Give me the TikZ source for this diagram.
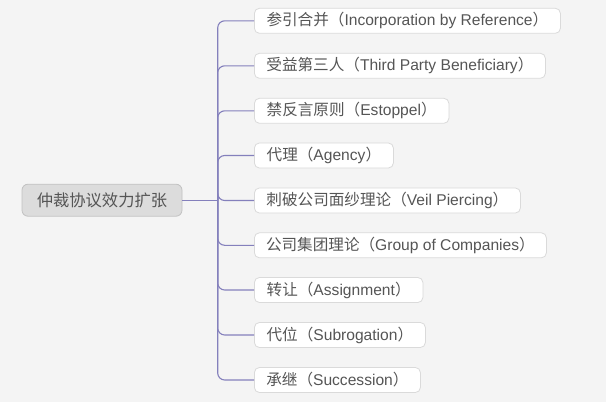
\documentclass[tikz,border=0pt]{standalone}
\usepackage{fontspec}
\setmainfont{Liberation Sans}
\newfontfamily\cjk{Noto Sans CJK SC}
\definecolor{bgc}{HTML}{F4F4F4}
\definecolor{txt}{HTML}{555555}
\definecolor{edgec}{HTML}{8480BC}
\definecolor{rootfill}{HTML}{DCDCDC}
\definecolor{rootline}{HTML}{C2C2C2}
\definecolor{boxline}{HTML}{DADADA}
\begin{document}
\begin{tikzpicture}[x=1pt,y=-1pt,
  rootbox/.style={draw=rootline, fill=rootfill, rounded corners=6pt, line width=0.8pt,
    minimum width=160pt, minimum height=32pt, inner sep=0pt, text=txt,
    font=\fontsize{16.3}{18}\selectfont\cjk},
  leafbox/.style={draw=boxline, fill=white, rounded corners=5pt, line width=0.8pt,
    minimum height=25pt, inner sep=0pt, anchor=west, text=txt,
    font=\fontsize{15.6}{17}\selectfont},
  conn/.style={draw=edgec, line width=1.1pt}]
\fill[bgc] (0,0) rectangle (606,402);
\useasboundingbox (0,0) rectangle (606,402);
\node[rootbox] (root) at (102,200.2) {仲裁协议效力扩张};
\coordinate (trunk) at (217.7,200.2);
\node[leafbox, minimum width=306pt] (c1) at (254,20.8) {{\cjk 参引合并（}Incorporation by Reference{\cjk ）}};
\node[leafbox, minimum width=291pt] (c2) at (254,65.8) {{\cjk 受益第三人（}Third Party Beneficiary{\cjk ）}};
\node[leafbox, minimum width=194.5pt] (c3) at (254,110.8) {{\cjk 禁反言原则（}Estoppel{\cjk ）}};
\node[leafbox, minimum width=139pt] (c4) at (254,155.5) {{\cjk 代理（}Agency{\cjk ）}};
\node[leafbox, minimum width=266pt] (c5) at (254,200.5) {{\cjk 刺破公司面纱理论（}Veil Piercing{\cjk ）}};
\node[leafbox, minimum width=292pt] (c6) at (254,245.3) {{\cjk 公司集团理论（}Group of Companies{\cjk ）}};
\node[leafbox, minimum width=168.5pt] (c7) at (254,290) {{\cjk 转让（}Assignment{\cjk ）}};
\node[leafbox, minimum width=171pt] (c8) at (254,335) {{\cjk 代位（}Subrogation{\cjk ）}};
\node[leafbox, minimum width=166pt] (c9) at (254,380) {{\cjk 承继（}Succession{\cjk ）}};
\draw[conn] (root.east) -- (trunk);
\foreach \c in {c1,c2,c3,c4,c5,c6,c7,c8,c9}{
  \draw[conn, rounded corners=7pt] (trunk) |- (\c.west);
}
\end{tikzpicture}
\end{document}
